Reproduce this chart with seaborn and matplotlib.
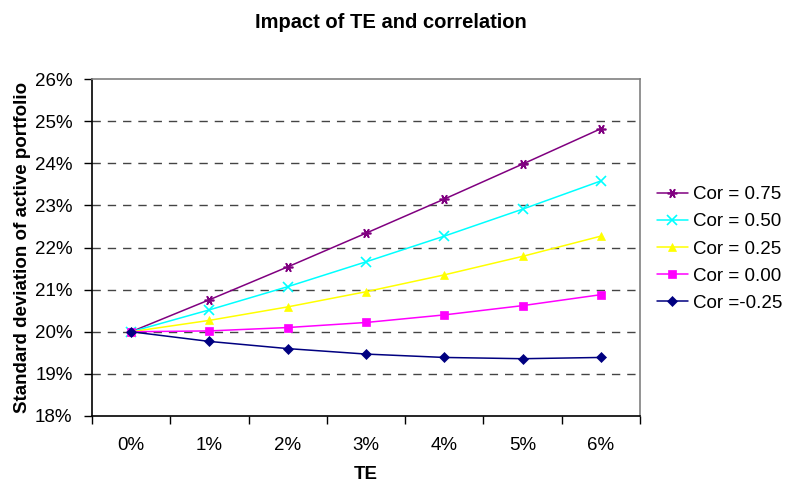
import matplotlib
matplotlib.use("Agg")
import matplotlib.pyplot as plt
import seaborn as sns
import pandas as pd

te_labels = ["0%", "1%", "2%", "3%", "4%", "5%", "6%"]
series_names = ["Cor = 0.75", "Cor = 0.50", "Cor = 0.25", "Cor = 0.00", "Cor =-0.25"]
cor_075 = [20.00, 20.76, 21.54, 22.34, 23.15, 23.98, 24.82]
cor_050 = [20.00, 20.52, 21.07, 21.66, 22.27, 22.91, 23.58]
cor_025 = [20.00, 20.27, 20.59, 20.95, 21.35, 21.79, 22.27]
cor_000 = [20.00, 20.02, 20.10, 20.22, 20.40, 20.62, 20.88]
cor_m025 = [20.00, 19.77, 19.60, 19.47, 19.39, 19.36, 19.39]
y_ticks = [18, 19, 20, 21, 22, 23, 24, 25, 26]

colors = ["#800080", "#00FFFF", "#FFFF00", "#FF00FF", "#000080"]
markers = [(6, 2, 90), "x", "^", "s", "D"]
msizes = [7, 7, 6, 6, 5]

rows = []
for name, vals in zip(series_names, [cor_075, cor_050, cor_025, cor_000, cor_m025]):
    for i, v in enumerate(vals):
        rows.append({"pos": i, "sd": v, "series": name})
df = pd.DataFrame(rows)

sns.set_style("white")
plt.rcParams["font.family"] = ["Liberation Sans", "DejaVu Sans"]
plt.rcParams["text.color"] = "black"
plt.rcParams["axes.labelcolor"] = "black"
plt.rcParams["xtick.color"] = "black"
plt.rcParams["ytick.color"] = "black"

fig = plt.figure(figsize=(7.87, 4.84), dpi=100)
ax = fig.add_axes([92 / 787, 1 - 416 / 484, (640 - 92) / 787, (416 - 79) / 484])

for name, c, m, ms in zip(series_names, colors, markers, msizes):
    sub = df[df["series"] == name]
    sns.lineplot(data=sub, x="pos", y="sd", ax=ax, color=c, marker=m,
                 markersize=ms, markeredgecolor=c, markerfacecolor=c,
                 markeredgewidth=1.2 if m == "x" or isinstance(m, tuple) else 0.5,
                 linewidth=1.1, label=name, legend=False)

ax.set_xlim(-0.5, 6.5)
ax.set_ylim(18, 26)
ax.set_yticks(y_ticks)
ax.set_yticklabels([f"{t}%" for t in y_ticks], fontsize=13.5)
ax.set_xticks(range(len(te_labels)))
ax.set_xticklabels(te_labels, fontsize=13.5)
ax.tick_params(axis="x", length=0, pad=15)
ax.tick_params(axis="y", length=6, width=1, direction="out", left=True, pad=8)
# tick marks between categories
ax.set_xticks([i - 0.5 for i in range(len(te_labels) + 1)], minor=True)
ax.tick_params(axis="x", which="minor", length=6, width=1, direction="out", bottom=True)

for t in y_ticks[1:-1]:
    ax.axhline(t, color="#444444", linestyle=(0, (6, 5)), linewidth=1.0, zorder=0)

for side in ["left", "bottom"]:
    ax.spines[side].set_color("black")
    ax.spines[side].set_linewidth(1.2)
for side in ["top", "right"]:
    ax.spines[side].set_color("#808080")
    ax.spines[side].set_linewidth(1.2)

ax.set_xlabel("TE", fontsize=13.5, fontweight="bold", labelpad=9)
ax.set_ylabel("Standard deviation of active portfolio", fontsize=13.5,
              fontweight="bold", labelpad=3)
fig.text(391 / 787, 1 - 22 / 484, "Impact of TE and correlation",
         ha="center", va="center", fontsize=14.5, fontweight="bold")

handles, labels = ax.get_legend_handles_labels()
fig.legend(handles, labels, loc="center left", bbox_to_anchor=(657 / 787, 1 - 249 / 484),
           frameon=False, fontsize=13.5, handlelength=1.65, labelspacing=0.53,
           handletextpad=0.25, borderpad=0, borderaxespad=0)

fig.savefig("out.png", dpi=100)
